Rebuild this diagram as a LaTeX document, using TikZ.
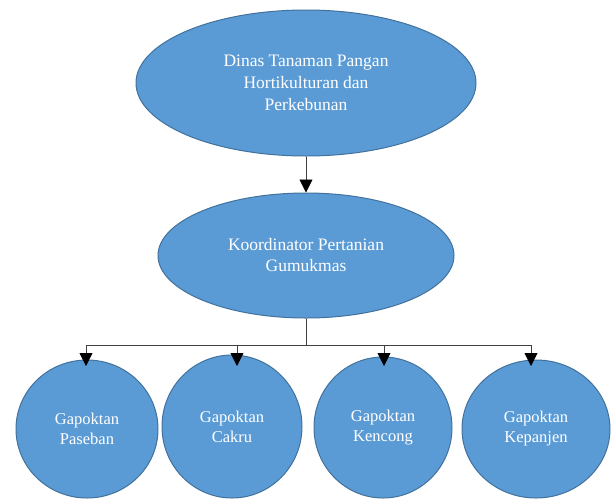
\documentclass[tikz,border=0pt]{standalone}
\usepackage{fontspec}
\setmainfont{Liberation Serif}
\usetikzlibrary{shapes.geometric,arrows.meta}
\definecolor{unitfill}{HTML}{5B9BD5}
\definecolor{unitdraw}{HTML}{41719C}
\begin{document}
\begin{tikzpicture}[x=1pt,y=-1pt,
    unit/.style={ellipse,draw=unitdraw,fill=unitfill,line width=1pt,inner sep=0pt,text=white,align=center},
    link/.style={draw=black!75,line width=0.8pt},
    arr/.style={link,-{Triangle[length=13pt,width=13pt,color=black]}}]
  \useasboundingbox (0,0) rectangle (611,499);
  % units
  \node[unit,minimum width=340pt,minimum height=146pt,font=\fontsize{17.5}{22}\selectfont] (dinas) at (306,83) {Dinas Tanaman Pangan\\Hortikulturan dan\\Perkebunan};
  \node[unit,minimum width=296pt,minimum height=125pt,font=\fontsize{17.5}{21}\selectfont] (koord) at (306,255.5) {Koordinator Pertanian\\Gumukmas};
  \node[unit,minimum width=142pt,minimum height=138pt,font=\fontsize{16.5}{20}\selectfont] (paseban) at (87,429) {Gapoktan\\Paseban};
  \node[unit,minimum width=140pt,minimum height=143pt,font=\fontsize{16.5}{20}\selectfont] (cakru) at (232,426.5) {Gapoktan\\Cakru};
  \node[unit,minimum width=138pt,minimum height=141pt,font=\fontsize{16.5}{20}\selectfont] (kencong) at (383,427.5) {Gapoktan\\Kencong};
  \node[unit,minimum width=148pt,minimum height=138pt,font=\fontsize{16.5}{20}\selectfont] (kepanjen) at (536,429) {Gapoktan\\Kepanjen};
  % bus
  \coordinate (b1) at (86,345);
  \coordinate (b2) at (237,345);
  \coordinate (b3) at (384,345);
  \coordinate (b4) at (531,345);
  \coordinate (t1) at (86,366);
  \coordinate (t2) at (237,366);
  \coordinate (t3) at (384,366);
  \coordinate (t4) at (531,366);
  \draw [arr] (dinas.south) -- (koord.north);
  \draw [link] (koord.south) -- (koord.south |- b1);
  \draw [link] (b1) -- (b4);
  \draw [arr] (b1) -- (t1);
  \draw [arr] (b2) -- (t2);
  \draw [arr] (b3) -- (t3);
  \draw [arr] (b4) -- (t4);
\end{tikzpicture}
\end{document}
